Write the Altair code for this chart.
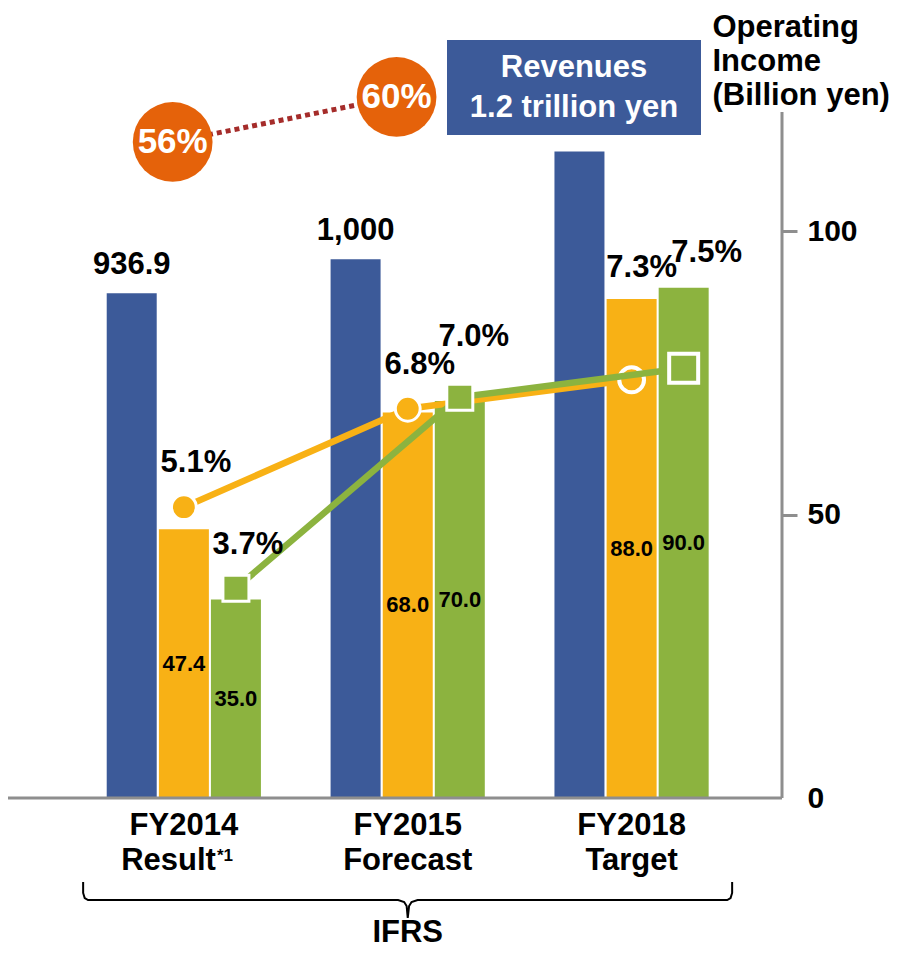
import altair as alt
import pandas as pd

# ---------------- data ----------------
years = ["FY2014", "FY2015", "FY2018"]
year_notes = ["Result", "Forecast", "Target"]
note_marks = ["*1", "", ""]
revenue = [936.9, 1000.0, 1200.0]
revenue_labels = ["936.9", "1,000", ""]
income_orange = [47.4, 68.0, 88.0]
income_green = [35.0, 70.0, 90.0]
margin_orange = [5.1, 6.8, 7.3]
margin_green = [3.7, 7.0, 7.5]
ratio_years = ["FY2014", "FY2015"]
ratio_values = [56, 60]
axis_ticks = [0, 50, 100]
axis_title = ["Operating", "Income", "(Billion yen)"]
box_text = "Revenues\n1.2 trillion yen"
group_label = "IFRS"

# ---------------- layout / style ----------------
FONT = "Liberation Sans"
BLUE = "#3C5A99"
ORANGE = "#F8B115"
GREEN = "#8CB33F"
BUBBLE = "#E5620A"
DOT = "#A52C2A"
GRAY = "#8E8E8E"

W, H = 774, 790
X_DOM = [-0.7633, 2.6494]
OP_DOM = [0, 139.33]
REV_DOM = [0, 1466.5]
PCT_DOM = [0.078, 13.72]
RATIO_DOM = [-2.31, 67.91]
OFFSET = {"revenue": -0.233, "orange": 0.0, "green": 0.2325}
RATIO_OFFSET = -0.05

# brace drawn under the categories (x in category units, y in operating-income units)
BRACE_X = [-0.450, -0.450, -0.443, -0.428, 0.957, 0.984, 0.995, 1.0,
           1.006, 1.017, 1.044, 2.427, 2.442, 2.449, 2.449]
BRACE_Y = [-14.8, -16.75, -17.64, -18.0, -18.0, -18.34, -19.05, -21.16,
           -19.05, -18.34, -18.0, -18.0, -17.64, -16.75, -14.8]

# ---------------- tables ----------------
idx = list(range(len(years)))
rev_df = pd.DataFrame({"year": years, "i": idx, "revenue": revenue, "label": revenue_labels})
rev_df["x"] = rev_df["i"] + OFFSET["revenue"]

inc_df = pd.DataFrame({
    "year": years * 2,
    "i": idx * 2,
    "series": ["orange"] * 3 + ["green"] * 3,
    "income": income_orange + income_green,
    "margin": margin_orange + margin_green,
})
inc_df["x"] = inc_df["i"] + inc_df["series"].map(OFFSET)
inc_df["mid"] = inc_df["income"] / 2
inc_df["inc_label"] = inc_df["income"].map(lambda v: f"{v:.1f}")
inc_df["pct_label"] = inc_df["margin"].map(lambda v: f"{v:.1f}%")

ratio_df = pd.DataFrame({"year": ratio_years, "i": [years.index(y) for y in ratio_years],
                         "ratio": ratio_values})
ratio_df["x"] = ratio_df["i"] + RATIO_OFFSET
ratio_df["label"] = ratio_df["ratio"].map(lambda v: f"{v}%")

cat_df = pd.DataFrame({"i": idx, "year": years, "note": year_notes, "mark": note_marks})
ifrs_df = pd.DataFrame({"i": [1], "label": [group_label]})
brace_df = pd.DataFrame({"bx": BRACE_X, "by": BRACE_Y, "o": list(range(len(BRACE_X)))})
box_df = pd.DataFrame({"text": [box_text]})
one = pd.DataFrame({"k": [0]})


def xs():
    return alt.Scale(domain=X_DOM, nice=False, zero=False)


def sc(d):
    return alt.Scale(domain=d, nice=False, zero=False)


def X(field):
    return alt.X(f"{field}:Q", scale=xs(), axis=None)


txt = dict(font=FONT, fontWeight="bold", color="black")

op_axis = alt.Axis(
    orient="right", values=axis_ticks, domain=False, grid=False,
    tickSize=15, tickWidth=3, tickColor=GRAY,
    tickOpacity={"condition": {"test": "datum.value === 0", "value": 0}, "value": 1},
    labelFont=FONT, labelFontSize=30, labelFontWeight="bold", labelColor="black",
    labelPadding=10, labelAlign="left", labelBaseline="middle", labelFlush=False,
    title=axis_title, titleFont=FONT, titleFontSize=31, titleFontWeight="bold",
    titleColor="black", titleAngle=0, titleAlign="left", titleBaseline="alphabetic",
    titleX=-70, titleY=28, titleLineHeight=34,
)

color_enc = alt.Color("series:N", scale=alt.Scale(domain=["orange", "green"], range=[ORANGE, GREEN]),
                      legend=None)

# baseline and right axis line
baseline = alt.Chart(one).mark_rule(color=GRAY, strokeWidth=3).encode(
    x=alt.value(0), x2=alt.value(W), y=alt.value(H))
axis_line = alt.Chart(one).mark_rule(color=GRAY, strokeWidth=3).encode(
    x=alt.value(W), y=alt.value(104), y2=alt.value(H))

# revenue bars
rev_bars = alt.Chart(rev_df).mark_bar(size=50, orient="vertical", color=BLUE).encode(
    x=X("x"), y=alt.Y("revenue:Q", scale=sc(REV_DOM), axis=None, stack=None))
rev_text = alt.Chart(rev_df).transform_filter("datum.label != ''").mark_text(
    fontSize=31, align="center", baseline="alphabetic", dy=-19, **txt).encode(
    x=X("x"), y=alt.Y("revenue:Q", scale=sc(REV_DOM), axis=None), text="label:N")

# operating income bars
inc_bars = alt.Chart(inc_df).mark_bar(size=50, orient="vertical").encode(
    x=X("x"), y=alt.Y("income:Q", scale=sc(OP_DOM), axis=op_axis, stack=None), color=color_enc)
inc_text = alt.Chart(inc_df).mark_text(fontSize=22, align="center", baseline="middle", **txt).encode(
    x=X("x"), y=alt.Y("mid:Q", scale=sc(OP_DOM), axis=None), text="inc_label:N")


def pct_y():
    return alt.Y("margin:Q", scale=sc(PCT_DOM), axis=None)


def margin_line(series, color):
    return alt.Chart(inc_df).transform_filter(f"datum.series == '{series}'").mark_line(
        color=color, strokeWidth=6.5).encode(x=X("x"), y=pct_y())


def markers(series, shape, color, cond, size, sw):
    return alt.Chart(inc_df).transform_filter(f"datum.series == '{series}' && {cond}").mark_point(
        shape=shape, filled=True, fill=color, stroke="white", strokeWidth=sw, size=size,
        opacity=1).encode(x=X("x"), y=pct_y())


def pct_label(cond, dx, dy):
    return alt.Chart(inc_df).transform_filter(cond).mark_text(
        fontSize=31, align="center", baseline="alphabetic", dx=dx, dy=dy, **txt).encode(
        x=X("x"), y=pct_y(), text="pct_label:N")


lines_layers = [
    margin_line("orange", ORANGE),
    markers("orange", "circle", ORANGE, "datum.i < 2", 616, 3),
    markers("orange", "circle", ORANGE, "datum.i == 2", 616, 4),
    margin_line("green", GREEN),
    markers("green", "square", GREEN, "datum.i < 2", 676, 3),
    markers("green", "square", GREEN, "datum.i == 2", 841, 4),
    pct_label("datum.series == 'orange' && datum.i < 2", 12, -35),
    pct_label("datum.series == 'green' && datum.i == 0", 12, -34),
    pct_label("datum.series == 'green' && datum.i == 1", 14, -51),
    pct_label("datum.series == 'orange' && datum.i == 2", 10, -103),
    pct_label("datum.series == 'green' && datum.i == 2", 23, -106),
]

# ratio bubbles
ratio_y = alt.Y("ratio:Q", scale=sc(RATIO_DOM), axis=None)
ratio_line = alt.Chart(ratio_df).mark_line(color=DOT, strokeWidth=5, strokeDash=[5, 4]).encode(
    x=X("x"), y=ratio_y)
ratio_circles = alt.Chart(ratio_df).mark_circle(size=6362, color=BUBBLE, opacity=1).encode(
    x=X("x"), y=ratio_y)
ratio_text = alt.Chart(ratio_df).mark_text(font=FONT, fontWeight="bold", color="white", fontSize=35,
                                           align="center", baseline="middle").encode(
    x=X("x"), y=ratio_y, text="label:N")

# revenue target box
box = alt.Chart(box_df).mark_rect(color=BLUE).encode(
    x=alt.value(439), x2=alt.value(693), y=alt.value(32), y2=alt.value(127))
box_label = alt.Chart(box_df).mark_text(font=FONT, fontWeight="bold", color="white", fontSize=31,
                                        align="center", baseline="alphabetic", lineBreak="\n",
                                        lineHeight=40).encode(
    x=alt.value(566), y=alt.value(69), text="text:N")

# category labels
cat1 = alt.Chart(cat_df).mark_text(fontSize=31, align="center", baseline="alphabetic", **txt).encode(
    x=X("i"), y=alt.value(827), text="year:N")
cat2 = alt.Chart(cat_df).transform_filter("datum.mark == ''").mark_text(
    fontSize=31, align="center", baseline="alphabetic", **txt).encode(
    x=X("i"), y=alt.value(862), text="note:N")
cat2n = alt.Chart(cat_df).transform_filter("datum.mark != ''").mark_text(
    fontSize=31, align="right", baseline="alphabetic", dx=32, **txt).encode(
    x=X("i"), y=alt.value(862), text="note:N")
cat_sup = alt.Chart(cat_df).transform_filter("datum.mark != ''").mark_text(
    fontSize=17, align="left", baseline="alphabetic", dx=33, **txt).encode(
    x=X("i"), y=alt.value(853), text="mark:N")

brace = alt.Chart(brace_df).mark_line(color="black", strokeWidth=2).encode(
    x=X("bx"), y=alt.Y("by:Q", scale=sc(OP_DOM), axis=None), order=alt.Order("o:Q"))
ifrs = alt.Chart(ifrs_df).mark_text(fontSize=31, align="center", baseline="alphabetic", **txt).encode(
    x=X("i"), y=alt.value(934), text="label:N")

chart = alt.layer(
    inc_bars, rev_bars, baseline, axis_line, rev_text, inc_text,
    *lines_layers,
    ratio_line, ratio_circles, ratio_text,
    box, box_label,
    cat1, cat2, cat2n, cat_sup, brace, ifrs,
).resolve_scale(y="independent").properties(
    width=W, height=H,
    padding={"left": 0, "top": 0, "right": 109, "bottom": 152},
    autosize=alt.AutoSizeParams(type="none"),
).configure_view(stroke=None)

chart.save("out.html", embed_options={"renderer": "svg", "actions": False})
